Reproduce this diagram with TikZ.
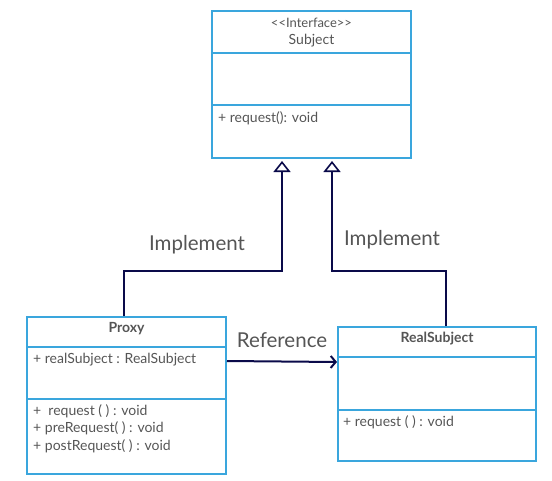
\documentclass[tikz,border=0pt]{standalone}
\usepackage{fontspec}
\setmainfont{Lato}
\usetikzlibrary{arrows.meta}
\definecolor{boxblue}{HTML}{3AA6DD}
\definecolor{linenavy}{HTML}{0A0A4A}
\definecolor{textgray}{HTML}{555555}
\begin{document}
\begin{tikzpicture}[x=1pt,y=-1pt]
\tikzstyle{classbox}=[draw=boxblue, line width=2pt, inner sep=0pt]
\tikzstyle{divider}=[draw=boxblue, line width=2pt]
\tikzstyle{member}=[anchor=west, inner sep=0pt, text=textgray, font=\fontsize{14}{16}\selectfont]
\tikzstyle{title}=[inner sep=0pt, text=textgray, font=\fontsize{14}{16}\selectfont]
\tikzstyle{label}=[inner sep=0pt, text=textgray, font=\fontsize{20.5}{24}\selectfont]
\tikzstyle{impl}=[draw=linenavy, line width=2pt, -{Triangle[open, length=11pt, width=17pt, line width=1.6pt]}]
\useasboundingbox (0,0) rectangle (552,480);
\begin{scope}
	% classes
	\node[classbox, minimum width=199pt, minimum height=147pt] (subject) at (311.5,84.5) {};
	\node[classbox, minimum width=199pt, minimum height=157pt] (proxy) at (126.5,395.5) {};
	\node[classbox, minimum width=198pt, minimum height=134pt] (real) at (437,394) {};
	
	\draw[divider] (subject.west |- 0,53) -- (subject.east |- 0,53);
	\draw[divider] (subject.west |- 0,105) -- (subject.east |- 0,105);
	\draw[divider] (proxy.west |- 0,347) -- (proxy.east |- 0,347);
	\draw[divider] (proxy.west |- 0,399) -- (proxy.east |- 0,399);
	\draw[divider] (real.west |- 0,357) -- (real.east |- 0,357);
	\draw[divider] (real.west |- 0,410) -- (real.east |- 0,410);
	
	\node[title, font=\fontsize{13}{15}\selectfont] (subjectstereo) at (311.5,23) {{<}{<}Interface{>}{>}};
	\node[title] (subjectname) at (311.5,41) {Subject};
	\node[member] (subjectop) at (218,118) {+ request(): void};
	
	\node[title, font=\fontsize{14}{16}\bfseries] (proxyname) at (126.5,329) {Proxy};
	\node[member] (proxyattr) at (33,360) {+ realSubject : RealSubject};
	\node[member] (proxyop1) at (33,411) {+\ \ request ( ) : void};
	\node[member] (proxyop2) at (33,428.5) {+ preRequest( ) : void};
	\node[member] (proxyop3) at (33,446) {+ postRequest( ) : void};
	
	\node[title, font=\fontsize{14}{16}\bfseries] (realname) at (437,339) {RealSubject};
	\node[member] (realop) at (343,422) {+ request ( ) : void};
	
	% connectors
	\coordinate (pbend) at (124,271);
	\coordinate (sbend) at (282,271);
	\coordinate (rbend) at (446,271);
	\coordinate (tbend) at (332,271);
	\draw[impl] (proxy.north -| pbend) -- (pbend) -- (sbend) -- ([yshift=-2pt]subject.south -| sbend);
	\draw[impl] (real.north -| rbend) -- (rbend) -- (tbend) -- ([yshift=-2pt]subject.south -| tbend);
	\draw[draw=linenavy, line width=2pt, -{Straight Barb[length=5pt, width=12pt, line width=2pt]}] (proxy.east |- 0,361) -- (real.west |- 0,362);
	
	\node[label] (impl1) at (197,245) {Implement};
	\node[label] (impl2) at (392,240) {Implement};
	\node[label] (ref) at (282,340) {Reference};
\end{scope}
\end{tikzpicture}
\end{document}
